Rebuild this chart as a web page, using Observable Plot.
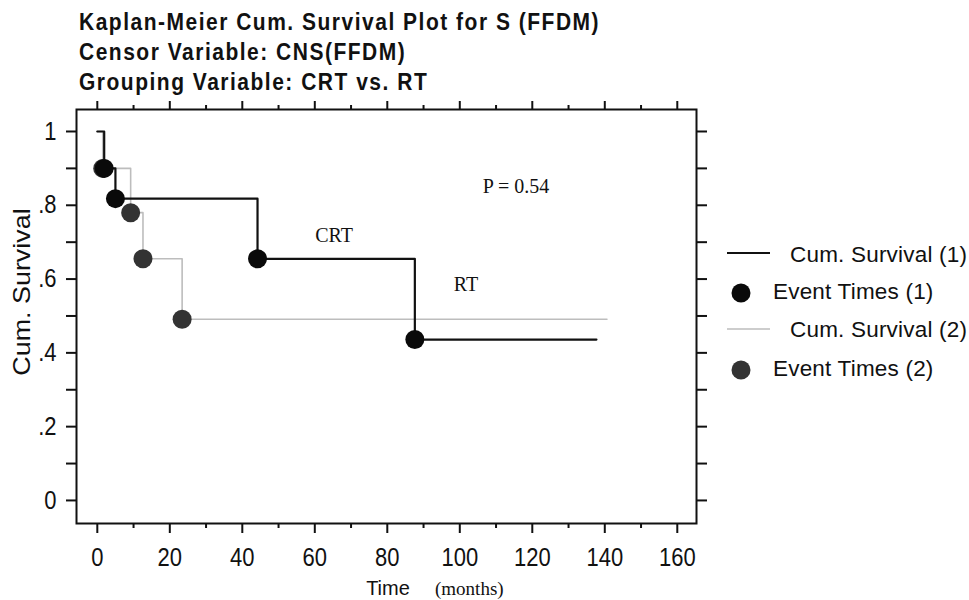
<!DOCTYPE html>
<html>
<head>
<meta charset="utf-8">
<script src="https://cdn.jsdelivr.net/npm/d3@7"></script>
<script src="https://cdn.jsdelivr.net/npm/@observablehq/plot@0.6"></script>
<style>
  html, body { margin: 0; padding: 0; background: #fff; overflow: hidden; }
  #wrap { position: relative; width: 969px; height: 600px; overflow: hidden;
          font-family: 'Liberation Sans', Arial, Helvetica, sans-serif; color: #111; }
  #chart { position: absolute; left: 0; top: 0; }
  .t { position: absolute; white-space: nowrap; }
  .title { font-weight: bold; font-size: 21px; line-height: 21px; letter-spacing: 1.5px; left: 79px;
           transform: scaleY(1.1); transform-origin: 0 85%; }
  .leg { font-size: 22.5px; line-height: 22.5px; letter-spacing: 0.2px; }
</style>
</head>
<body>
<div id="wrap">
  <div id="chart"></div>
</div>
<script>
// ---------- data ----------
const titleLines = [
  "Kaplan-Meier Cum. Survival Plot for S (FFDM)",
  "Censor Variable: CNS(FFDM)",
  "Grouping Variable: CRT vs. RT"
];
const yAxisLabel = "Cum. Survival";
const xAxisLabel = "Time";
const xAxisUnit = "(months)";

// group 1 = CRT (black), group 2 = RT (grey): step points (time, cumulative survival)
const crtTime = [0, 1.9, 5.0, 44.2, 87.6, 137.7];
const crtSurv = [1, 0.9, 0.818, 0.655, 0.436, 0.436];
const rtTime  = [0, 1.5, 9.2, 12.6, 23.4, 140.6];
const rtSurv  = [1, 0.9, 0.78, 0.655, 0.491, 0.491];

const xTickValues = [0, 20, 40, 60, 80, 100, 120, 140, 160];
const xMinorTickValues = [10, 30, 50, 70, 90, 110, 130, 150];
const yTickValues = [0, 0.2, 0.4, 0.6, 0.8, 1];
const yTickLabels = ["0", ".2", ".4", ".6", ".8", "1"];
const yMinorTickValues = [0.1, 0.3, 0.5, 0.7, 0.9];

const annotText = ["P = 0.54", "CRT", "RT"];
const annotTime = [115.5, 65.3, 101.7];
const annotSurv = [0.852, 0.717, 0.585];

const legendLabels = ["Cum. Survival (1)", "Event Times (1)", "Cum. Survival (2)", "Event Times (2)"];

// ---------- tables ----------
const crt = crtTime.map((t, i) => ({t, s: crtSurv[i]}));
const rt = rtTime.map((t, i) => ({t, s: rtSurv[i]}));
const crtEvents = crt.slice(1, -1);
const rtEvents = rt.slice(1, -1);
const annots = annotText.map((text, i) => ({text, t: annotTime[i], s: annotSurv[i]}));

const INK = "#111";
const GREY = "#bdbdbd";
const DOT1 = "#0a0a0a";
const DOT2 = "#333333";
const blank = () => "";

const plot = Plot.plot({
  width: 969,
  height: 600,
  marginLeft: 76,
  marginRight: 273,
  marginTop: 109,
  marginBottom: 77,
  style: {fontFamily: "'Liberation Sans', Arial, Helvetica, sans-serif", fontSize: "22px", color: INK, background: "transparent"},
  x: {domain: [-5.74, 165.3], label: null},
  y: {domain: [-0.0625, 1.0596], label: null},
  marks: [
    Plot.axisX({anchor: "bottom", ticks: xTickValues, tickSize: 10, tickPadding: 15, tickFormat: d => String(d), strokeWidth: 2, label: null}),
    Plot.axisX({anchor: "bottom", ticks: xMinorTickValues, tickSize: 5, tickFormat: blank, strokeWidth: 2, label: null}),
    Plot.axisX({anchor: "top", ticks: xTickValues, tickSize: 9, tickFormat: blank, strokeWidth: 2, label: null}),
    Plot.axisX({anchor: "top", ticks: xMinorTickValues, tickSize: 5, tickFormat: blank, strokeWidth: 2, label: null}),
    Plot.axisY({anchor: "left", ticks: yTickValues, tickSize: 10, tickPadding: 10,
      tickFormat: d => yTickLabels[yTickValues.indexOf(d)], strokeWidth: 2, label: null}),
    Plot.axisY({anchor: "left", ticks: yMinorTickValues, tickSize: 10, tickFormat: blank, strokeWidth: 2, label: null}),
    Plot.axisY({anchor: "right", ticks: yTickValues.concat(yMinorTickValues), tickSize: 10, tickFormat: blank, strokeWidth: 2, label: null}),
    Plot.frame({stroke: INK, strokeWidth: 2}),
    Plot.line(rt, {x: "t", y: "s", curve: "step-after", stroke: GREY, strokeWidth: 1.6}),
    Plot.line(crt, {x: "t", y: "s", curve: "step-after", stroke: INK, strokeWidth: 2.2}),
    Plot.dot(rtEvents, {x: "t", y: "s", r: 9.5, fill: DOT2, stroke: "none"}),
    Plot.dot(crtEvents, {x: "t", y: "s", r: 9.5, fill: DOT1, stroke: "none"}),
    Plot.text(annots, {x: "t", y: "s", text: "text", fontFamily: "'Liberation Serif', 'Times New Roman', serif",
      fontSize: 20, fill: INK, textAnchor: "middle", lineAnchor: "middle"})
  ]
});
document.getElementById("chart").appendChild(plot);

// the reference's tick numerals are drawn a little taller than they are wide
function stretch(t, s) {
  let tr = t.getAttribute("transform");
  if (!tr) {
    const x = t.getAttribute("x"), y = t.getAttribute("y");
    const xn = x && !/em/.test(x) ? parseFloat(x) : 0;
    const yn = y && !/em/.test(y) ? parseFloat(y) : 0;
    if (x && !/em/.test(x)) t.removeAttribute("x");
    if (y && !/em/.test(y)) t.removeAttribute("y");
    tr = `translate(${xn},${yn})`;
  }
  t.setAttribute("transform", tr + ` scale(1,${s})`);
}
plot.querySelectorAll('g[aria-label="x-axis tick label"] text, g[aria-label="y-axis tick label"] text')
  .forEach(t => { if (t.textContent) stretch(t, 1.15); });

// ---------- titles, axis titles, legend ----------
const wrap = document.getElementById("wrap");
function addDiv(cls, text, css) {
  const d = document.createElement("div");
  d.className = "t " + cls;
  d.textContent = text;
  Object.assign(d.style, css);
  wrap.appendChild(d);
  return d;
}
const titleBaselines = [30, 60, 90];
titleLines.forEach((s, i) => addDiv("title", s, {top: (titleBaselines[i] - 17.8) + "px"}));

addDiv("", yAxisLabel, {left: "21.5px", top: "292px", fontSize: "24px", lineHeight: "24px",
  transform: "translate(-50%,-50%) rotate(-90deg) scaleX(1.12)"});
addDiv("", xAxisLabel, {left: "388px", top: "578px", fontSize: "20px", lineHeight: "20px",
  transform: "translateX(-50%)"});
addDiv("", xAxisUnit, {left: "435px", top: "579px", fontSize: "19px", lineHeight: "19px",
  fontFamily: "'Liberation Serif', 'Times New Roman', serif"});

// legend symbols
const ns = "http://www.w3.org/2000/svg";
const lg = document.createElementNS(ns, "svg");
lg.setAttribute("width", 969); lg.setAttribute("height", 600);
lg.style.position = "absolute"; lg.style.left = "0"; lg.style.top = "0";
function el(name, attrs) {
  const e = document.createElementNS(ns, name);
  for (const k in attrs) e.setAttribute(k, attrs[k]);
  lg.appendChild(e);
}
el("line", {x1: 727, x2: 770, y1: 253, y2: 253, stroke: INK, "stroke-width": 2.2});
el("circle", {cx: 741, cy: 293, r: 9.5, fill: DOT1});
el("line", {x1: 727, x2: 770, y1: 329, y2: 329, stroke: GREY, "stroke-width": 1.6});
el("circle", {cx: 741, cy: 370, r: 9.5, fill: DOT2});
wrap.appendChild(lg);
const legX = [790, 773, 790, 773];
const legBase = [263, 300, 338, 377];
legendLabels.forEach((s, i) => addDiv("leg", s, {left: legX[i] + "px", top: (legBase[i] - 19) + "px"}));
</script>
</body>
</html>
